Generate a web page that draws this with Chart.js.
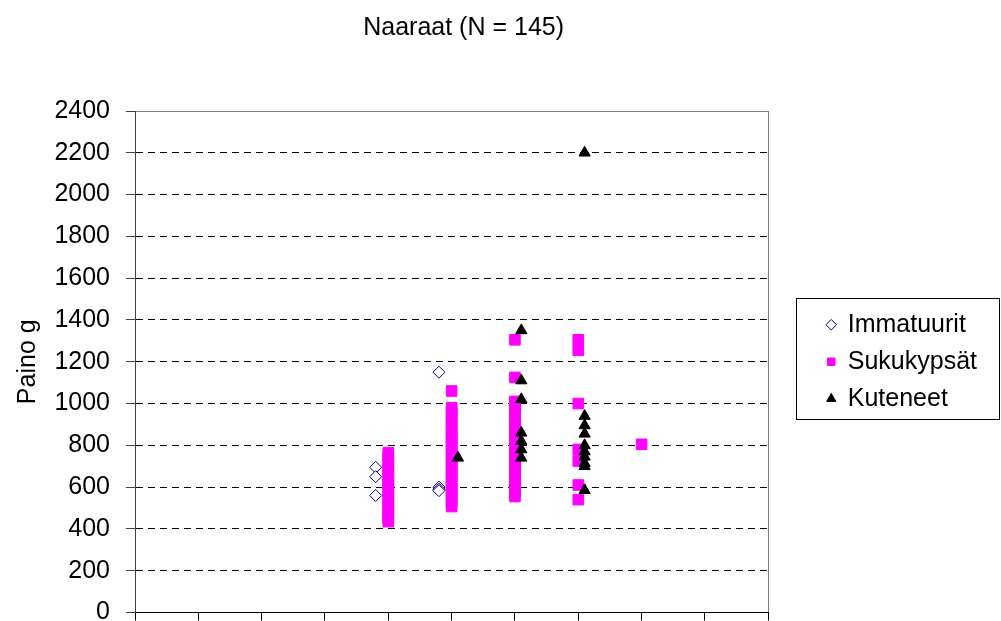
<!DOCTYPE html>
<html lang="fi">
<head>
<meta charset="utf-8">
<title>Naaraat (N = 145)</title>
<script src="https://cdn.jsdelivr.net/npm/chart.js@4.4.1/dist/chart.umd.min.js"></script>
<style>
    html, body { margin: 0; padding: 0; background: #fff; }
    #wrap { width: 1001px; height: 621px; position: relative; overflow: hidden; }
</style>
</head>
<body>
<div id="wrap"><canvas id="chart"></canvas></div>
<script>
const chartTitle = 'Naaraat (N = 145)';
const yAxisTitle = 'Paino g';
const seriesNames = ['Immatuurit', 'Sukukypsät', 'Kuteneet'];
const yTickValues = [0, 200, 400, 600, 800, 1000, 1200, 1400, 1600, 1800, 2000, 2200, 2400];
const xTickValues = [0, 1, 2, 3, 4, 5, 6, 7, 8, 9, 10];

// one x per column, one list of weights (g) per column
const immatuuritX = [3.8, 4.8];
const immatuuritY = [
    [695, 650, 560],
    [1150, 600, 590, 583],
];

const sukukypsatX = [4, 5, 6, 7, 8];
const sukukypsatY = [
    [765, 748, 730, 722, 705, 690, 672, 660, 645, 628, 615, 600, 588, 570, 556, 540, 525, 510, 495, 478, 462, 450, 435],
    [1060, 980, 965, 948, 930, 915, 900, 880, 862, 850, 835, 815, 800, 790, 770, 752, 740, 725, 710, 695, 680, 660, 648, 630, 615, 600, 585, 570, 555, 540, 525, 507],
    [1305, 1125, 1010, 995, 975, 960, 945, 925, 910, 890, 875, 860, 845, 825, 810, 795, 780, 765, 750, 730, 715, 700, 685, 670, 650, 635, 620, 605, 590, 570, 555],
    [1305, 1255, 1000, 780, 725, 610, 540],
    [805],
];

const kuteneetX = [5.1, 6.1, 7.1];
const kuteneetY = [
    [740],
    [1350, 1110, 1020, 860, 820, 780, 740],
    [2200, 940, 895, 855, 800, 770, 745, 715, 700, 585],
];

const toPoints = (xs, ys) => xs.flatMap((x, i) => ys[i].map((y) => ({ x, y })));

const yMax = yTickValues[yTickValues.length - 1];
const frameColor = '#808080';

// moves the legend/title a bit and draws the frame round the legend
const legendFrame = {
    id: 'legendFrame',
    afterLayout(chart) {
        const legend = chart.legend;
        legend.left += 47;
        legend.right += 47;
        const title = chart.titleBlock;
        title.left += 12;
        title.right += 12;
    },
    afterDraw(chart) {
        const boxes = chart.legend.legendHitBoxes;
        if (!boxes || !boxes.length) return;
        const first = boxes[0];
        const last = boxes[boxes.length - 1];
        const x0 = Math.round(first.left - 31) + 0.5;
        const y0 = Math.round(first.top - 14) + 0.5;
        const x1 = chart.width - 1.5;
        const y1 = Math.round(last.top + last.height + 8) + 0.5;
        const ctx = chart.ctx;
        ctx.save();
        ctx.strokeStyle = '#000';
        ctx.lineWidth = 1;
        ctx.strokeRect(x0, y0, x1 - x0, y1 - y0);
        ctx.restore();
    }
};

function main() {
    Chart.defaults.font.family = "'Liberation Sans', Arial, sans-serif";
    Chart.defaults.font.size = 25;
    Chart.defaults.color = '#000';

    const chartElement = document.querySelector('#chart');

    new Chart(chartElement, {
        type: 'scatter',
        data: {
            datasets: [
                {
                    label: seriesNames[0],
                    data: toPoints(immatuuritX, immatuuritY),
                    pointStyle: 'rectRot',
                    pointRadius: 6,
                    pointHoverRadius: 6,
                    backgroundColor: '#fff',
                    borderColor: '#000080',
                    borderWidth: 1,
                    order: 1,
                },
                {
                    label: seriesNames[1],
                    data: toPoints(sukukypsatX, sukukypsatY),
                    pointStyle: 'rect',
                    pointRadius: 7.5,
                    pointHoverRadius: 7.5,
                    backgroundColor: '#ff00ff',
                    borderColor: '#ff00ff',
                    borderWidth: 1,
                    order: 3,
                },
                {
                    label: seriesNames[2],
                    data: toPoints(kuteneetX, kuteneetY),
                    pointStyle: 'triangle',
                    pointRadius: 6.5,
                    pointHoverRadius: 6.5,
                    backgroundColor: '#000',
                    borderColor: '#000',
                    borderWidth: 1,
                    order: 2,
                },
            ]
        },
        options: {
            responsive: true,
            maintainAspectRatio: false,
            animation: false,
            clip: false,
            layout: { padding: { right: 61 } },
            plugins: {
                title: {
                    display: true,
                    text: chartTitle,
                    fullSize: false,
                    font: { size: 25, weight: 'normal' },
                    color: '#000',
                    padding: { top: 13, bottom: 68 },
                },
                legend: {
                    position: 'right',
                    fullSize: false,
                    labels: {
                        usePointStyle: true,
                        boxWidth: 8,
                        boxHeight: 7.5,
                        padding: 12,
                        color: '#000',
                        font: { size: 25 },
                        sort: (a, b) => a.datasetIndex - b.datasetIndex,
                    }
                },
                tooltip: { enabled: false },
            },
            scales: {
                x: {
                    type: 'linear',
                    min: xTickValues[0],
                    max: xTickValues[xTickValues.length - 1],
                    afterBuildTicks: (scale) => { scale.ticks = xTickValues.map((v) => ({ value: v })); },
                    afterFit: (scale) => { scale.height = 8; },
                    ticks: { display: false },
                    grid: {
                        drawOnChartArea: true,
                        color: (c) => (c.index === xTickValues.length - 1 ? frameColor : 'rgba(0,0,0,0)'),
                        tickColor: '#000',
                        tickLength: 8,
                    },
                    border: { color: '#000', width: 1 },
                },
                y: {
                    type: 'linear',
                    min: yTickValues[0],
                    max: yMax,
                    afterBuildTicks: (scale) => { scale.ticks = yTickValues.map((v) => ({ value: v })); },
                    afterFit: (scale) => {
                        scale.width = 135;
                        scale.paddingTop = 0;
                        scale.paddingBottom = 0;
                    },
                    ticks: {
                        padding: 16,
                        color: '#000',
                        font: { size: 25 },
                        callback: (value) => String(value),
                    },
                    title: {
                        display: true,
                        text: yAxisTitle,
                        color: '#000',
                        font: { size: 25 },
                        padding: { top: 13, bottom: 0 },
                    },
                    grid: {
                        color: (c) => {
                            if (!c.tick || c.tick.value === 0) return 'rgba(0,0,0,0)';
                            return c.tick.value === yMax ? frameColor : '#000';
                        },
                        tickColor: '#404040',
                        tickLength: 9,
                    },
                    border: {
                        color: '#404040',
                        width: 1,
                        dash: (c) => (c.tick && c.tick.value === yMax ? [] : [7, 5]),
                    },
                }
            }
        },
        plugins: [legendFrame]
    });
}

main();
</script>
</body>
</html>
